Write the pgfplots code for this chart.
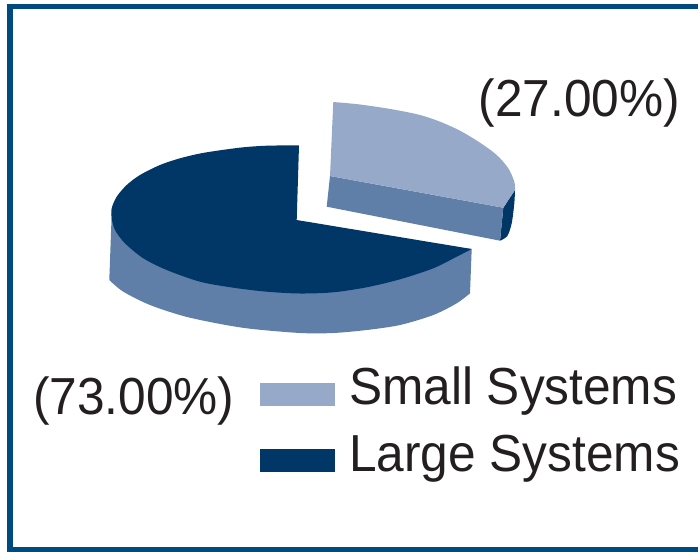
\documentclass[border=0pt]{standalone}
\usepackage{pgfplots}
\pgfplotsset{compat=1.18}
\usepackage{fontspec}
\setmainfont{Liberation Sans}
\definecolor{largeblue}{HTML}{003767}
\definecolor{sideblue}{HTML}{607FA8}
\definecolor{smallblue}{HTML}{97A9C8}
\definecolor{frameblue}{HTML}{004A7F}
\definecolor{labelink}{HTML}{231F20}
\newcommand{\chartfont}{\fontsize{49.6bp}{52bp}\selectfont}
\newcommand{\charttext}[1]{\scalebox{1}[1.05]{\chartfont #1}}
\begin{document}
\begin{tikzpicture}
\begin{axis}[
  width=698bp, height=552bp, scale only axis,
  xmin=0, xmax=698, ymin=0, ymax=552, y dir=reverse,
  hide axis, clip=false,
  every axis plot/.append style={draw=none, forget plot},
]
% page background and frame
\addplot[fill=white] coordinates {(0,0) (698,0) (698,552) (0,552)} --cycle;
\addplot[fill=frameblue] coordinates {(7,4) (698,4) (698,552) (7,552)} --cycle;
\addplot[fill=white] coordinates {(13,9.5) (698,9.5) (698,547) (13,547)} --cycle;
% large slice: side wall
\addplot[fill=sideblue, smooth] coordinates {
 (109.3,280) (123.3,291.7) (150,305) (183.3,316) (216.7,323.3) (250,328.7)
 (300,333) (333.3,333) (366.7,330) (400,325) (433.3,315) (456.7,303.3)
 (470,293.3)} -- (axis cs:471.7,249) -- (axis cs:111.7,213.3) --cycle;
% large slice: top face, 73 percent
\addplot[fill=largeblue, smooth] coordinates {
 (299,145.3) (266.7,145.7) (243.3,147.3) (220,150.3) (200,153.5) (180,158.3) (160,165)
 (140,175) (126.7,185) (116.7,196.7) (111.7,208.3) (111.7,218.3) (115,230) (125,243.3)
 (143.3,258.3) (166.7,270) (200,281.7) (233.3,287.7) (266.7,291.7) (300,293.5)
 (333.3,292.3) (366.7,287.3) (400,279.3) (433.3,268.3) (456.7,256.7) (471.7,249)}
 -- (axis cs:296.7,220) --cycle;
% small slice: dark outer wall
\addplot[fill=largeblue, smooth] coordinates {
 (515,190) (514.3,203.3) (511.7,223.3) (507.3,236) (500,240.7)}
 -- (axis cs:503.3,207.7) --cycle;
% small slice: cut face
\addplot[fill=sideblue] coordinates {(330,176) (503.3,207.7) (500,240.7) (326.7,206.7)} --cycle;
% small slice: top face, 27 percent
\addplot[fill=smallblue, smooth] coordinates {
 (333.3,102) (360,104.5) (393.3,109.5) (420,115) (440,121.7) (460,130.7) (480,142.7)
 (496.7,155) (508.3,168.3) (514.3,181.7) (515,190)} -- (axis cs:503.3,207.7) -- (axis cs:330,176) --cycle;
% legend swatches
\addplot[fill=smallblue] coordinates {(260,383) (335,383) (335,406) (260,406)} --cycle;
\addplot[fill=largeblue] coordinates {(260,449) (335,449) (335,472) (260,472)} --cycle;
% value labels and legend entries
\node[anchor=base west, inner sep=0pt, text=labelink] at (axis cs:478.5,116.5) {\charttext{(27.00\%)}};
\node[anchor=base west, inner sep=0pt, text=labelink] at (axis cs:33,414.5) {\charttext{(73.00\%)}};
\node[anchor=base west, inner sep=0pt, text=labelink] at (axis cs:349,404.5) {\charttext{Small Systems}};
\node[anchor=base west, inner sep=0pt, text=labelink] at (axis cs:349,471) {\charttext{Large Systems}};
\end{axis}
\end{tikzpicture}
\end{document}
